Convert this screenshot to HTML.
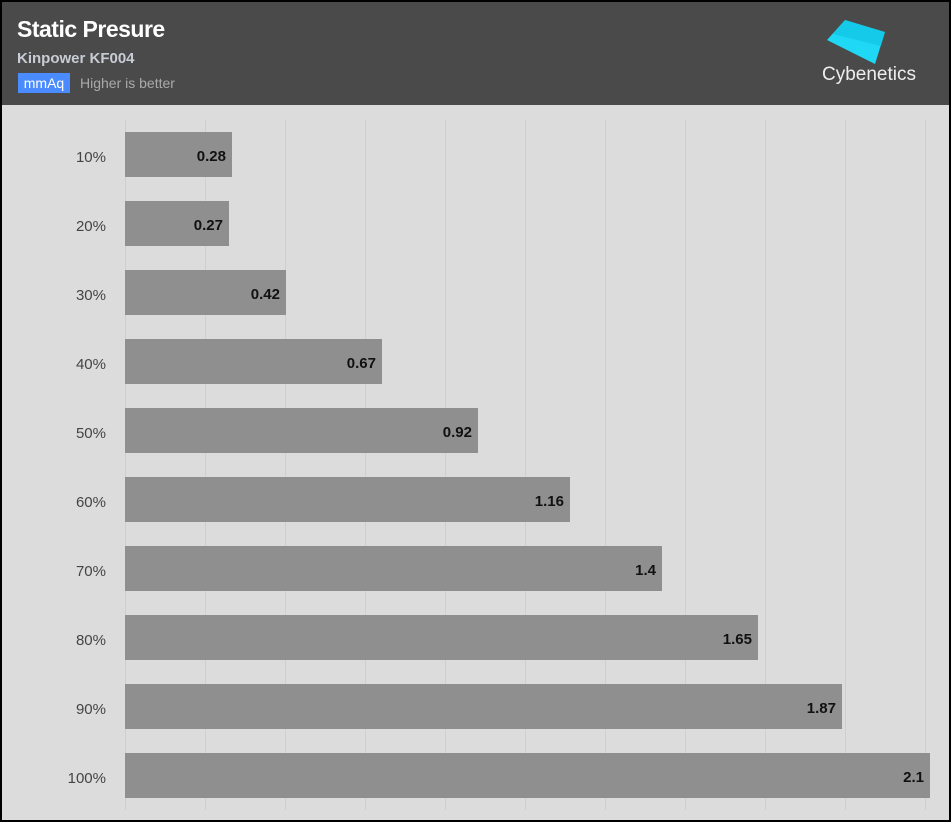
<!DOCTYPE html>
<html><head><style>
body{margin:0;width:951px;height:822px;overflow:hidden;font-family:"Liberation Sans",sans-serif;}
.wrap{position:absolute;left:0;top:0;width:947px;height:818px;border:2px solid #000;background:#dcdcdc;}
.hdr{position:absolute;left:0;top:0;width:947px;height:103px;background:#4a4a4a;}
</style></head><body><div class="wrap">
<div class="hdr">
<div style="position:absolute;left:15px;top:14px;color:#fff;font-weight:bold;font-size:23px;letter-spacing:-0.5px">Static Presure</div>
<div style="position:absolute;left:15px;top:48px;color:#c8ccd4;font-weight:bold;font-size:15px">Kinpower KF004</div>
<div style="position:absolute;left:16px;top:71px;width:52px;height:20px;background:#4a8cff;color:#fff;font-size:14px;line-height:20px;text-align:center">mmAq</div>
<div style="position:absolute;left:78px;top:73px;color:#aaa;font-size:14px">Higher is better</div>
<svg style="position:absolute;left:815px;top:0" width="120" height="100"><polygon points="28,18 68,30 58,62 10,38" fill="#1fd8f5"/><polygon points="28,18 68,30 64,44 16,32" fill="#0fc0e0" opacity="0.6"/><text x="5" y="78" fill="#eee" font-size="19" font-family="Liberation Sans">Cybenetics</text></svg>
</div>
<svg style="position:absolute;left:0;top:0" width="947" height="818">
<g stroke="#cfcfcf" stroke-width="1">
<line x1="123.5" y1="118" x2="123.5" y2="808"/><line x1="203.5" y1="118" x2="203.5" y2="808"/><line x1="283.5" y1="118" x2="283.5" y2="808"/><line x1="363.5" y1="118" x2="363.5" y2="808"/><line x1="443.5" y1="118" x2="443.5" y2="808"/><line x1="523.5" y1="118" x2="523.5" y2="808"/><line x1="603.5" y1="118" x2="603.5" y2="808"/><line x1="683.5" y1="118" x2="683.5" y2="808"/><line x1="763.5" y1="118" x2="763.5" y2="808"/><line x1="843.5" y1="118" x2="843.5" y2="808"/><line x1="923.5" y1="118" x2="923.5" y2="808"/>
</g>
<g fill="#8f8f8f">
<rect x="123" y="130" width="107" height="45"/>
<rect x="123" y="199" width="104" height="45"/>
<rect x="123" y="268" width="161" height="45"/>
<rect x="123" y="337" width="257" height="45"/>
<rect x="123" y="406" width="353" height="45"/>
<rect x="123" y="475" width="445" height="45"/>
<rect x="123" y="544" width="537" height="45"/>
<rect x="123" y="613" width="633" height="45"/>
<rect x="123" y="682" width="717" height="45"/>
<rect x="123" y="751" width="805" height="45"/>
</g>
<g font-size="15" font-weight="bold" fill="#111" text-anchor="end">
<text x="224" y="159">0.28</text><text x="221" y="228">0.27</text><text x="278" y="297">0.42</text><text x="374" y="366">0.67</text><text x="470" y="435">0.92</text><text x="562" y="504">1.16</text><text x="654" y="573">1.4</text><text x="750" y="642">1.65</text><text x="834" y="711">1.87</text><text x="922" y="780">2.1</text>
</g>
<g font-size="15" fill="#444" text-anchor="end">
<text x="104" y="160">10%</text><text x="104" y="229">20%</text><text x="104" y="298">30%</text><text x="104" y="367">40%</text><text x="104" y="436">50%</text><text x="104" y="505">60%</text><text x="104" y="574">70%</text><text x="104" y="643">80%</text><text x="104" y="712">90%</text><text x="104" y="781">100%</text>
</g>
</svg>
</div></body></html>
